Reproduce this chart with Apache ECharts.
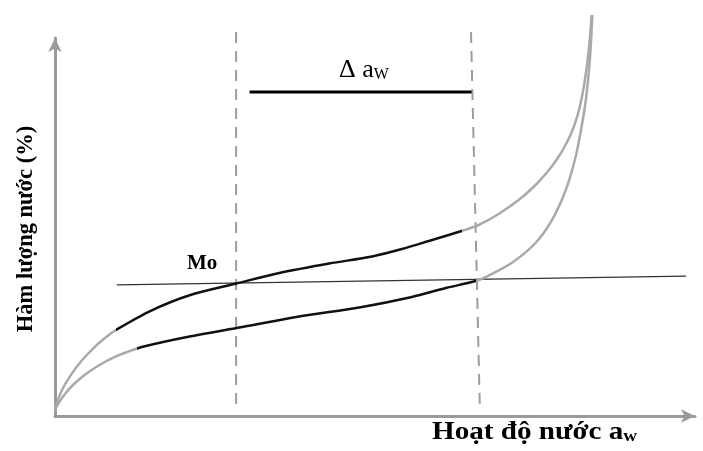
<!DOCTYPE html>
<html>
<head>
<meta charset="utf-8">
<script src="https://cdn.jsdelivr.net/npm/echarts@6/dist/echarts.min.js"></script>
<style>html,body{margin:0;padding:0;background:#fff}#c{width:703px;height:451px}</style>
</head>
<body>
<div id="c"></div>
<script>
// Water activity (x, 0..1) and moisture content (y, relative units 0..100)
const upperAw = [0, 0.00467, 0.0109, 0.02336, 0.0405, 0.06231, 0.08255, 0.09502, 0.14798, 0.21028, 0.28349, 0.35047, 0.42835, 0.49533, 0.54206, 0.58411, 0.63551, 0.66199, 0.69315, 0.7243, 0.74766, 0.76791, 0.78349, 0.79595, 0.80685, 0.8162, 0.82399, 0.83022, 0.83489, 0.83847];
const upperM  = [1.59, 4.23, 6.88, 10.48, 14.42, 18.31, 21.22, 22.75, 27.70, 31.93, 35.05, 37.83, 40.34, 42.20, 44.18, 46.30, 48.94, 50.53, 53.44, 57.14, 60.58, 64.29, 67.72, 71.16, 74.87, 79.37, 84.92, 91.53, 98.15, 106.08];
const lowerAw = [0, 0.00467, 0.01558, 0.02804, 0.04517, 0.06698, 0.09346, 0.11059, 0.13551, 0.21028, 0.29283, 0.37695, 0.47975, 0.55763, 0.61059, 0.65732, 0.6729, 0.7134, 0.75078, 0.7757, 0.79751, 0.81308, 0.82243, 0.82944, 0.83411, 0.83723, 0.83956];
const lowerM  = [1.59, 3.17, 5.82, 8.20, 10.71, 13.23, 15.61, 16.80, 18.25, 21.03, 23.54, 26.19, 28.84, 31.48, 33.86, 35.71, 36.77, 40.48, 45.77, 51.59, 59.52, 68.25, 76.19, 83.60, 91.01, 98.15, 106.08];
const upperBold = [0.095, 0.6355];  // aw range drawn in black on the upper curve
const lowerBold = [0.128, 0.6573];  // aw range drawn in black on the lower curve
const moLineAw = [0.0966, 0.986];
const moLineM  = [34.7, 37.0];
const dashLeftAw = [0.283, 0.283];
const dashRightAw = [0.650, 0.664];
const dashM = [101.6, 1.1];
const deltaAw = [0.304, 0.651];
const deltaM = [85.7, 85.7];
const xTitle = 'Hoạt độ nước a';
const yTitle = 'Hàm lượng nước (%)';
const moLabel = 'Mo';
const deltaLabel = 'Δ a';

const zip = (xs, ys) => xs.map((x, i) => [x, ys[i]]);

const gray = '#a9a9a9';
const black = '#111';
const pieces = r => [
  { lt: r[0], color: gray },
  { gte: r[0], lte: r[1], color: black },
  { gt: r[1], color: gray }
];
const SM = 0.3;

const chart = echarts.init(document.getElementById('c'));
chart.setOption({
  animation: false,
  grid: { left: 55, right: 8, top: 38, bottom: 35 },
  xAxis: {
    type: 'value', min: 0, max: 1,
    axisLine: { lineStyle: { color: '#9a9a9a', width: 3 }, symbol: ['none', 'arrow'], symbolSize: [10, 14] },
    axisTick: { show: false }, axisLabel: { show: false }, splitLine: { show: false }
  },
  yAxis: {
    type: 'value', min: 0, max: 100,
    axisLine: { show: true, lineStyle: { color: '#9a9a9a', width: 3 }, symbol: ['none', 'arrow'], symbolSize: [10, 14] },
    axisTick: { show: false }, axisLabel: { show: false }, splitLine: { show: false }
  },
  visualMap: [
    { type: 'piecewise', show: false, dimension: 0, seriesIndex: 3, pieces: pieces(upperBold) },
    { type: 'piecewise', show: false, dimension: 0, seriesIndex: 4, pieces: pieces(lowerBold) }
  ],
  series: [
    { type: 'line', data: zip(dashLeftAw, dashM), symbol: 'none', clip: false,
      lineStyle: { color: '#9d9d9d', width: 2, type: [11, 8] } },
    { type: 'line', data: zip(dashRightAw, dashM), symbol: 'none', clip: false,
      lineStyle: { color: '#9d9d9d', width: 2, type: [11, 8] } },
    { type: 'line', data: zip(moLineAw, moLineM), symbol: 'none', clip: false,
      lineStyle: { color: '#333', width: 1.2 } },
    { type: 'line', data: zip(upperAw, upperM), symbol: 'none', smooth: SM, clip: false,
      lineStyle: { width: 2.5 } },
    { type: 'line', data: zip(lowerAw, lowerM), symbol: 'none', smooth: SM, clip: false,
      lineStyle: { width: 2.5 } },
    { type: 'line', data: zip(deltaAw, deltaM), symbol: 'none', clip: false,
      lineStyle: { color: '#000', width: 3 } }
  ],
  graphic: [
    { type: 'text', left: 432, top: 419, scaleX: 1.12, style: {
        text: '{m|' + xTitle + '}{s|w}',
        rich: {
          m: { fontFamily: 'Liberation Serif', fontWeight: 'bold', fontSize: 26, fill: '#000' },
          s: { fontFamily: 'Liberation Serif', fontWeight: 'bold', fontSize: 17, fill: '#000', padding: [9, 0, 0, 0] }
        } } },
    { type: 'text', x: 26, y: 229, rotation: Math.PI / 2, style: {
        text: yTitle, fontFamily: 'Liberation Serif', fontWeight: 'bold', fontSize: 22.5, fill: '#000',
        align: 'center', verticalAlign: 'middle' } },
    { type: 'text', left: 187, top: 253, style: {
        text: moLabel, fontFamily: 'Liberation Serif', fontWeight: 'bold', fontSize: 21, fill: '#000' } },
    { type: 'text', left: 339, top: 57, style: {
        text: '{m|' + deltaLabel + '}{s|W}',
        rich: {
          m: { fontFamily: 'Liberation Serif', fontSize: 26, fill: '#000' },
          s: { fontFamily: 'Liberation Serif', fontSize: 16, fill: '#000', padding: [9, 0, 0, 0] }
        } } }
  ]
});
</script>
</body>
</html>
